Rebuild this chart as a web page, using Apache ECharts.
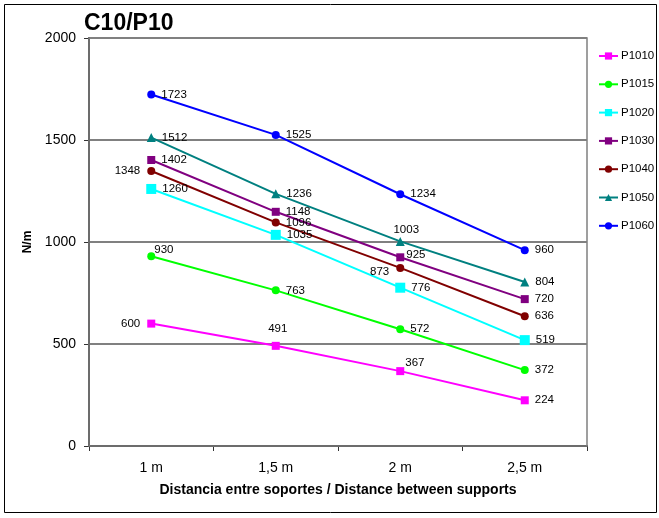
<!DOCTYPE html>
<html><head><meta charset="utf-8">
<script src="https://cdn.jsdelivr.net/npm/echarts@6/dist/echarts.min.js"></script>
<style>html,body{margin:0;padding:0;background:#fff}#c{width:659px;height:518px}</style>
</head><body><div id="c"></div>
<script>
const categories = ['1 m', '1,5 m', '2 m', '2,5 m'];
const yTicks = [0, 500, 1000, 1500, 2000];
const P1010 = [600, 491, 367, 224];
const P1015 = [930, 763, 572, 372];
const P1020 = [1260, 1035, 776, 519];
const P1030 = [1402, 1148, 925, 720];
const P1040 = [1348, 1096, 873, 636];
const P1050 = [1512, 1236, 1003, 804];
const P1060 = [1723, 1525, 1234, 960];

const font = 'Liberation Sans, Arial, sans-serif';
function lab(pos, off) {
  const o = { show: true, position: pos, color: '#000', fontSize: 11.5, fontFamily: font };
  if (off) o.offset = off;
  return o;
}
function mk(vals, labels) {
  return vals.map((v, i) => ({ value: v, label: labels[i] }));
}
const R = lab('right', [1, 0]);
const seriesDefs = [
  { name: 'P1010', data: P1010, color: '#FF00FF', symbol: 'rect', size: 8,
    labels: [lab('left', [-2, 0]), lab('top', [2, -2]), lab('right', [-4, -8]), R] },
  { name: 'P1015', data: P1015, color: '#00FF00', symbol: 'circle', size: 8,
    labels: [lab('right', [-6, -6]), R, R, R] },
  { name: 'P1020', data: P1020, color: '#00FFFF', symbol: 'rect', size: 10,
    labels: [R, R, R, R] },
  { name: 'P1030', data: P1030, color: '#800080', symbol: 'rect', size: 8,
    labels: [R, R, lab('right', [-3, -2]), R] },
  { name: 'P1040', data: P1040, color: '#800000', symbol: 'circle', size: 8,
    labels: [lab('left', [-2, 0]), R, lab('left', [-2, 4]), R] },
  { name: 'P1050', data: P1050, color: '#008080', symbol: 'triangle', size: 9,
    labels: [R, R, lab('top', [6, 4]), R] },
  { name: 'P1060', data: P1060, color: '#0000FF', symbol: 'circle', size: 8,
    labels: [R, R, R, R] }
];

const chart = echarts.init(document.getElementById('c'), null, { renderer: 'canvas' });
chart.setOption({
  animation: false,
  backgroundColor: '#fff',
  textStyle: { fontFamily: font },
  graphic: [
    { type: 'rect', shape: { x: 4.5, y: 4.5, width: 652, height: 508 }, style: { fill: 'none', stroke: '#000', lineWidth: 1 }, silent: true },
    { type: 'rect', shape: { x: 89, y: 38, width: 498, height: 408 }, style: { fill: 'none', stroke: '#808080', lineWidth: 1.5 }, silent: true, z: 1 },
    { type: 'text', left: 84, top: 12, style: { text: 'C10/P10', font: 'bold 23px ' + font, fill: '#000' } }
  ],
  grid: { left: 89, right: 72, top: 38, bottom: 72, containLabel: false },
  legend: {
    orient: 'vertical', left: 593, top: 45, itemGap: 16.3, itemWidth: 19, itemHeight: 9,
    textStyle: { fontSize: 11.5, color: '#000', fontFamily: font, padding: [0, 0, 0, -2] },
    data: seriesDefs.map(s => s.name)
  },
  xAxis: {
    type: 'category', data: categories, boundaryGap: true,
    name: 'Distancia entre soportes / Distance between supports',
    nameLocation: 'middle', nameGap: 37,
    nameTextStyle: { fontWeight: 'bold', fontSize: 14, color: '#000', fontFamily: font },
    axisLine: { lineStyle: { color: '#333', width: 2 } },
    axisTick: { show: true, length: 5, lineStyle: { color: '#333' } },
    axisLabel: { color: '#000', fontSize: 14, margin: 15, fontFamily: font },
    splitLine: { show: false }
  },
  yAxis: {
    type: 'value', min: 0, max: 2000, interval: 500,
    name: 'N/m', nameLocation: 'middle', nameGap: 55, nameRotate: 90,
    nameTextStyle: { fontWeight: 'bold', fontSize: 12, color: '#000', fontFamily: font },
    axisLine: { show: true, lineStyle: { color: '#333', width: 2 } },
    axisTick: { show: true, length: 5, lineStyle: { color: '#333' } },
    axisLabel: { color: '#000', fontSize: 14, margin: 13, fontFamily: font,
      formatter: v => yTicks.includes(v) ? String(v) : '' },
    splitLine: { show: true, lineStyle: { color: '#808080', width: 2 } }
  },
  series: seriesDefs.map(s => ({
    name: s.name, type: 'line', data: mk(s.data, s.labels),
    symbol: s.symbol, symbolSize: s.size, showSymbol: true,
    itemStyle: { color: s.color },
    lineStyle: { color: s.color, width: 2 },
    emphasis: { disabled: true },
    z: 3
  }))
});
</script>
</body></html>
